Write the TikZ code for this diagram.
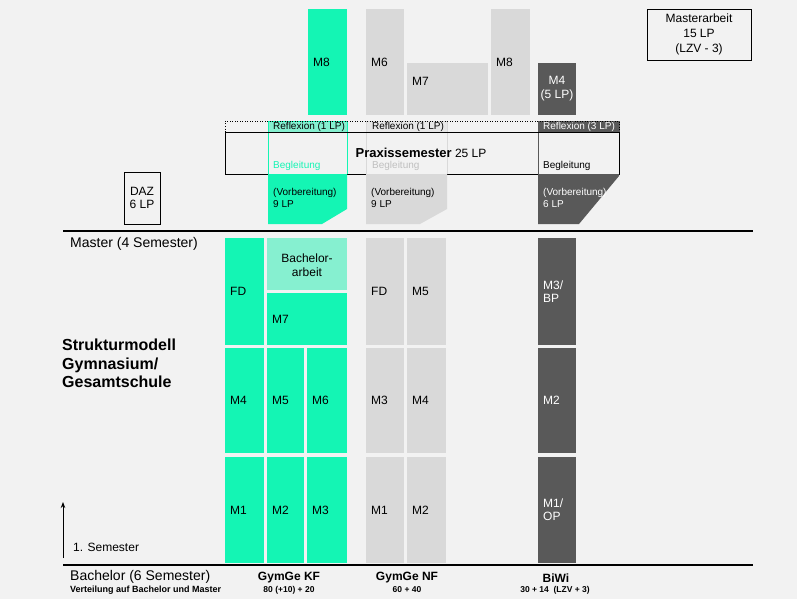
\documentclass[tikz,border=0pt]{standalone}
\usepackage{fontspec}
\setmainfont{Liberation Sans}
\usetikzlibrary{arrows.meta}
\definecolor{bg}{HTML}{F2F2F2}
\definecolor{kf}{RGB}{20,245,180}
\definecolor{kflight}{RGB}{134,240,208}
\definecolor{nf}{HTML}{D9D9D9}
\definecolor{nfstrip}{HTML}{E6E6E6}
\definecolor{bw}{HTML}{595959}
\definecolor{nftext}{HTML}{BFBFBF}
\newcommand\fs[2]{\fontsize{#1}{#2}\selectfont}
\newcommand\modbox[8]{%
  \fill[#6] (#2,#3) rectangle ++(#4,#5);
  \node[modlabel,text=#7] (#1) at ({#2+5},{#3+#5/2}) {#8};}
\tikzset{
  modlabel/.style={anchor=west,inner sep=0pt,align=left,font=\fs{12}{13}},
  small/.style={anchor=west,inner sep=0pt,font=\fs{10}{11}},
  rule/.style={line width=2pt},
}
\begin{document}
\begin{tikzpicture}[x=1pt,y=-1pt]
\useasboundingbox (0,0) rectangle (797,599);
\fill[bg] (0,0) rectangle (797,599);

% ---------- top modules (Master)
\modbox{kfM8}{308}{9}{39}{106}{kf}{black}{M8}
\modbox{nfM6}{366}{9}{38}{106}{nf}{black}{M6}
\fill[nf] (407,63) rectangle ++(81,52);
\node[modlabel] (nfM7) at (412,81) {M7};
\modbox{nfM8}{491}{9}{39}{106}{nf}{black}{M8}
\fill[bw] (538,63) rectangle ++(38,52);
\node[inner sep=0pt,align=center,text=white,font=\fs{12}{14}] (bwM4) at (557,89) {M4\\(5 LP)};

% Masterarbeit
\draw[line width=0.8pt] (647,9) rectangle (751,60);
\node[inner sep=0pt,align=center,font=\fs{12}{15}] (ma) at (699,34) {Masterarbeit\\15 LP\\(LZV - 3)};

% ---------- Praxissemester band
% green column
\fill[kflight] (268,121) rectangle (347,132);
\draw[kf,line width=0.6pt] (268,121) rectangle (347,174);
% grey column
\fill[nfstrip] (366,121) rectangle (447,132);
\draw[nf,line width=0.6pt] (366,121) rectangle (447,174);
% dark column
\fill[bw] (538,121) rectangle (619,132);
\draw[bw,line width=0.6pt] (538,121) rectangle (619,174);
% band outlines
\draw[dotted,line width=0.5pt] (225,121) rectangle (619,132);
\draw[line width=0.8pt] (225,132) rectangle (619,174);
\node[small,font=\fs{10}{11}] (r1) at (273,127) {Reflexion (1 LP)};
\node[small] (r2) at (372,127) {Reflexion (1 LP)};
\node[small,text=white] (r3) at (543,127) {Reflexion (3 LP)};
\node[small,text=kf] (b1) at (273,166) {Begleitung};
\node[small,text=nftext] (b2) at (372,166) {Begleitung};
\node[small] (b3) at (543,166) {Begleitung};
\node[inner sep=0pt,font=\fs{12}{14}] (ps) at (421,153) {{\bfseries\fs{13}{15}Praxissemester} 25 LP};

% Vorbereitung
\fill[kf] (268,174) -- (347,174) -- (347,209) -- (322,224) -- (268,224) -- cycle;
\fill[nf] (366,174) -- (447,174) -- (447,209) -- (420,224) -- (366,224) -- cycle;
\fill[bw] (538,174) -- (619,174) -- (619,176) -- (579,224) -- (538,224) -- cycle;
\node[small,align=left,anchor=north west,font=\fs{10}{12}] (v1) at (273,188) {(Vorbereitung)\\9 LP};
\node[small,align=left,anchor=north west,font=\fs{10}{12}] (v2) at (371,188) {(Vorbereitung)\\9 LP};
\node[small,align=left,anchor=north west,font=\fs{10}{12},text=white] (v3) at (543,188) {(Vorbereitung)\\6 LP};

% DAZ
\draw[line width=0.8pt] (124,172) rectangle (160,224);
\node[inner sep=0pt,align=center,font=\fs{12}{13.5}] (daz) at (142,198) {DAZ\\6 LP};

% ---------- rules
\coordinate (m1) at (63,231);
\coordinate (m2) at (753,231);
\coordinate (b1l) at (63,565);
\coordinate (b2l) at (753,565);
\draw[rule] (m1) -- (m2);
\draw[rule] (b1l) -- (b2l);
\node[anchor=west,inner sep=0pt,font=\fs{14}{16}] (master) at (70,244) {Master (4 Semester)};
\node[anchor=west,inner sep=0pt,font=\fs{14}{16}] (bachelor) at (70,577) {Bachelor (6 Semester)};
\node[anchor=west,inner sep=0pt,font=\bfseries\fs{9}{10}] (vert) at (70,590) {Verteilung auf Bachelor und Master};

% title
\node[anchor=north west,inner sep=0pt,align=left,font=\bfseries\fs{16}{18.5}] (title) at (62,339) {Strukturmodell\\Gymnasium/\\Gesamtschule};

% arrow
\coordinate (a1) at (63,558);
\coordinate (a2) at (63,502);
\draw[line width=1pt,-{Stealth[length=6pt,width=4.5pt]}] (a1) -- (a2);
\node[anchor=west,inner sep=0pt,font=\fs{12}{13}] (sem) at (73,547) {1. Semester};

% ---------- Master/Bachelor modules
% row 1
\modbox{kfFD}{225}{238}{39}{107}{kf}{black}{FD}
\fill[kflight] (267,238) rectangle ++(80,52);
\node[inner sep=0pt,align=center,font=\fs{12}{14}] (ba) at (307,265) {Bachelor-\\arbeit};
\modbox{kfM7}{267}{293}{80}{52}{kf}{black}{M7}
\modbox{nfFD}{366}{238}{38}{107}{nf}{black}{FD}
\modbox{nfM5}{407}{238}{39}{107}{nf}{black}{M5}
\modbox{bwM3}{538}{238}{38}{107}{bw}{white}{M3/\\BP}
% row 2
\modbox{kfM4}{225}{348}{39}{105}{kf}{black}{M4}
\modbox{kfM5}{267}{348}{37}{105}{kf}{black}{M5}
\modbox{kfM6}{307}{348}{40}{105}{kf}{black}{M6}
\modbox{nfM3}{366}{348}{38}{105}{nf}{black}{M3}
\modbox{nfM4}{407}{348}{39}{105}{nf}{black}{M4}
\modbox{bwM2}{538}{348}{38}{105}{bw}{white}{M2}
% row 3
\modbox{kfM1}{225}{457}{39}{106}{kf}{black}{M1}
\modbox{kfM2}{267}{457}{37}{106}{kf}{black}{M2}
\modbox{kfM3}{307}{457}{40}{106}{kf}{black}{M3}
\modbox{nfM1}{366}{457}{38}{106}{nf}{black}{M1}
\modbox{nfM2}{407}{457}{39}{106}{nf}{black}{M2}
\modbox{bwM1}{538}{457}{38}{106}{bw}{white}{M1/\\OP}

% ---------- bottom labels
\node[inner sep=0pt,font=\bfseries\fs{12}{13}] (kf) at (289,578) {GymGe KF};
\node[inner sep=0pt,font=\bfseries\fs{8.5}{10}] (kfn) at (289,590) {80 (+10) + 20};
\node[inner sep=0pt,font=\bfseries\fs{12}{13}] (nf) at (407,578) {GymGe NF};
\node[inner sep=0pt,font=\bfseries\fs{8.5}{10}] (nfn) at (407,590) {60 + 40};
\node[inner sep=0pt,font=\bfseries\fs{12}{13}] (bw) at (556,578) {BiWi};
\node[inner sep=0pt,font=\bfseries\fs{8.5}{10}] (bwn) at (555,590) {30 + 14\ \ (LZV + 3)};
\end{tikzpicture}
\end{document}
